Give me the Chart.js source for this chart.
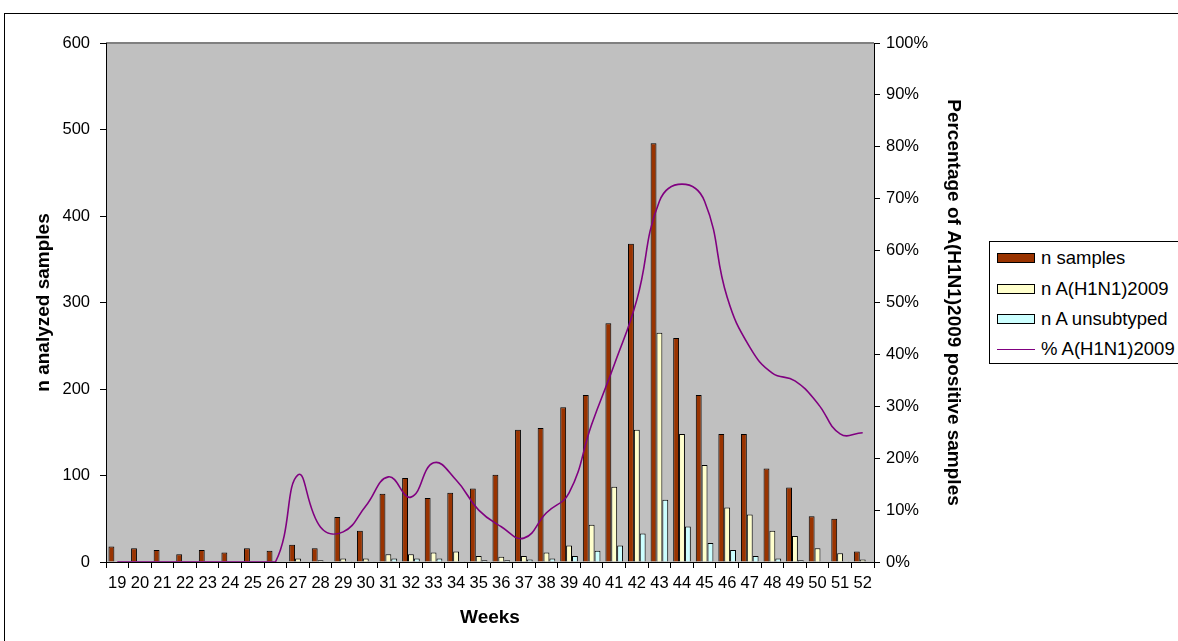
<!DOCTYPE html>
<html>
<head>
<meta charset="utf-8">
<script src="https://cdn.jsdelivr.net/npm/chart.js"></script>
<style>
  html, body { margin: 0; padding: 0; background: #fff; overflow: hidden; }
  #wrap { position: relative; width: 1178px; height: 641px; overflow: hidden; }
  #frame { position: absolute; left: 4px; top: 13px; width: 1300px; height: 800px;
           border-left: 1px solid #000; border-top: 1px solid #000; }
  canvas { position: absolute; left: 0; top: 0; }
  #legend { position: absolute; left: 989px; top: 241px; width: 220px; height: 121px;
            border: 1px solid #000; background: #fff;
            font-family: Arial, "Liberation Sans", sans-serif; font-size: 18.5px; color: #000; }
  #legend .row { position: absolute; left: 7px; height: 22px; line-height: 22px; white-space: nowrap; }
  #legend .sw { display: inline-block; width: 36px; height: 8px; border: 1px solid #000;
                vertical-align: middle; margin-right: 6px; position: relative; top: -1px; }
  #legend .ln { display: inline-block; width: 38px; height: 0; border-top: 1.5px solid #800080;
                vertical-align: middle; margin-right: 6px; position: relative; top: -1px; }
</style>
</head>
<body>
<div id="wrap">
  <div id="frame"></div>
  <canvas id="c" width="1178" height="641"></canvas>
  <div id="legend"></div>
</div>
<script>
'use strict';

// weeks on the x axis
const weeks = ['19','20','21','22','23','24','25','26','27','28','29','30','31','32','33','34','35',
               '36','37','38','39','40','41','42','43','44','45','46','47','48','49','50','51','52'];

const nSamples = [18, 16, 14, 9, 14, 11, 16, 13, 20, 16, 52, 36, 79, 97, 74, 80, 85,
                  101, 153, 155, 179, 193, 276, 368, 484, 259, 193, 148, 148, 108, 86, 53, 50, 12];

const nH1N1 = [0, 0, 0, 0, 0, 0, 0, 0, 4, 2, 4, 4, 9, 9, 11, 12, 7,
               6, 7, 11, 19, 43, 87, 153, 265, 148, 112, 63, 55, 36, 30, 16, 10, 3];

const nUnsubtyped = [0, 0, 0, 0, 0, 0, 0, 0, 0, 0, 1, 1, 4, 4, 4, 1, 2,
                     2, 3, 4, 7, 13, 19, 33, 72, 41, 22, 14, 7, 4, 2, 0, 1, 0];

// percentage positive for A(H1N1)2009
const pctH1N1 = [0, 0, 0, 0, 0, 0, 0, 0, 16.8, 6.7, 5.8, 10.8, 16.4, 12.5, 19.1, 15.8, 10,
                 6.8, 4.6, 9.5, 13.3, 26.5, 38, 50.5, 69.5, 72.8, 69.5, 51, 41.4, 36.4, 34.9, 30.6, 24.7, 24.9];

const leftTicks = [0, 100, 200, 300, 400, 500, 600];

const FONT = 'Arial, "Liberation Sans", sans-serif';

// gray plot area behind the bars
const plotBg = {
    id: 'plotBg',
    beforeDraw(chart) {
        const {ctx, chartArea: a} = chart;
        ctx.save();
        ctx.fillStyle = '#c0c0c0';
        ctx.fillRect(a.left, a.top, a.right - a.left, a.bottom - a.top);
        ctx.strokeStyle = '#808080';
        ctx.lineWidth = 2;
        ctx.beginPath();
        ctx.moveTo(a.left, a.top);
        ctx.lineTo(a.right, a.top);
        ctx.stroke();
        ctx.restore();
    }
};

const series = [
    {label: 'n samples', data: nSamples, color: '#993300'},
    {label: 'n A(H1N1)2009', data: nH1N1, color: '#ffffcc'},
    {label: 'n A unsubtyped', data: nUnsubtyped, color: '#ccffff'}
];

const datasets = series.map(s => ({
    type: 'bar',
    label: s.label,
    data: s.data,
    backgroundColor: s.color,
    borderColor: '#000',
    borderWidth: 1,
    categoryPercentage: 0.78,
    barPercentage: 1,
    yAxisID: 'y',
    order: 1
}));

datasets.push({
    type: 'line',
    label: '% A(H1N1)2009',
    data: pctH1N1,
    borderColor: '#800080',
    borderWidth: 1.6,
    pointRadius: 0,
    tension: 0.45,
    fill: false,
    yAxisID: 'y1',
    order: 0
});

const tickFont = {family: FONT, size: 16.5};
const titleFont = {family: FONT, size: 19, weight: 'bold'};

new Chart(document.getElementById('c').getContext('2d'), {
    data: {labels: weeks, datasets: datasets},
    options: {
        responsive: false,
        animation: false,
        devicePixelRatio: 1,
        layout: {padding: {top: 43, right: 204, bottom: 0, left: 0}},
        plugins: {
            legend: {display: false},
            tooltip: {enabled: false}
        },
        scales: {
            x: {
                grid: {drawOnChartArea: false, color: '#000', tickLength: 6, offset: true},
                border: {color: '#000', width: 1},
                ticks: {font: tickFont, color: '#000', maxRotation: 0, autoSkip: false, padding: 6},
                title: {display: true, text: 'Weeks', font: titleFont, color: '#000',
                        padding: {top: 0, bottom: 12}},
                afterFit(scale) { scale.height = 79; }
            },
            y: {
                position: 'left',
                min: 0, max: 600,
                afterBuildTicks(scale) { scale.ticks = leftTicks.map(v => ({value: v})); },
                grid: {drawOnChartArea: false, color: '#000', tickLength: 6},
                border: {color: '#000', width: 1},
                ticks: {font: tickFont, color: '#000', padding: 10},
                title: {display: true, text: 'n analyzed samples', font: titleFont, color: '#000',
                        padding: {top: 32, bottom: 0}},
                afterFit(scale) { scale.width = 106; }
            },
            y1: {
                position: 'right',
                min: 0, max: 100,
                grid: {drawOnChartArea: false, color: '#000', tickLength: 6},
                border: {color: '#000', width: 1},
                ticks: {font: tickFont, color: '#000', padding: 6, stepSize: 10,
                        callback: v => v + '%'},
                title: {display: true, text: 'Percentage of A(H1N1)2009 positive samples',
                        font: titleFont, color: '#000', padding: {top: 9, bottom: 0}},
                afterFit(scale) { scale.width = 100; }
            }
        }
    },
    plugins: [plotBg]
});

// legend box on the right
const legend = document.getElementById('legend');
const rowTops = [5, 36, 66, 96];
datasets.forEach((d, i) => {
    const row = document.createElement('div');
    row.className = 'row';
    row.style.top = rowTops[i] + 'px';
    const sw = document.createElement('span');
    if (d.type === 'line') {
        sw.className = 'ln';
    } else {
        sw.className = 'sw';
        sw.style.background = d.backgroundColor;
    }
    row.appendChild(sw);
    row.appendChild(document.createTextNode(d.label));
    legend.appendChild(row);
});
</script>
</body>
</html>
